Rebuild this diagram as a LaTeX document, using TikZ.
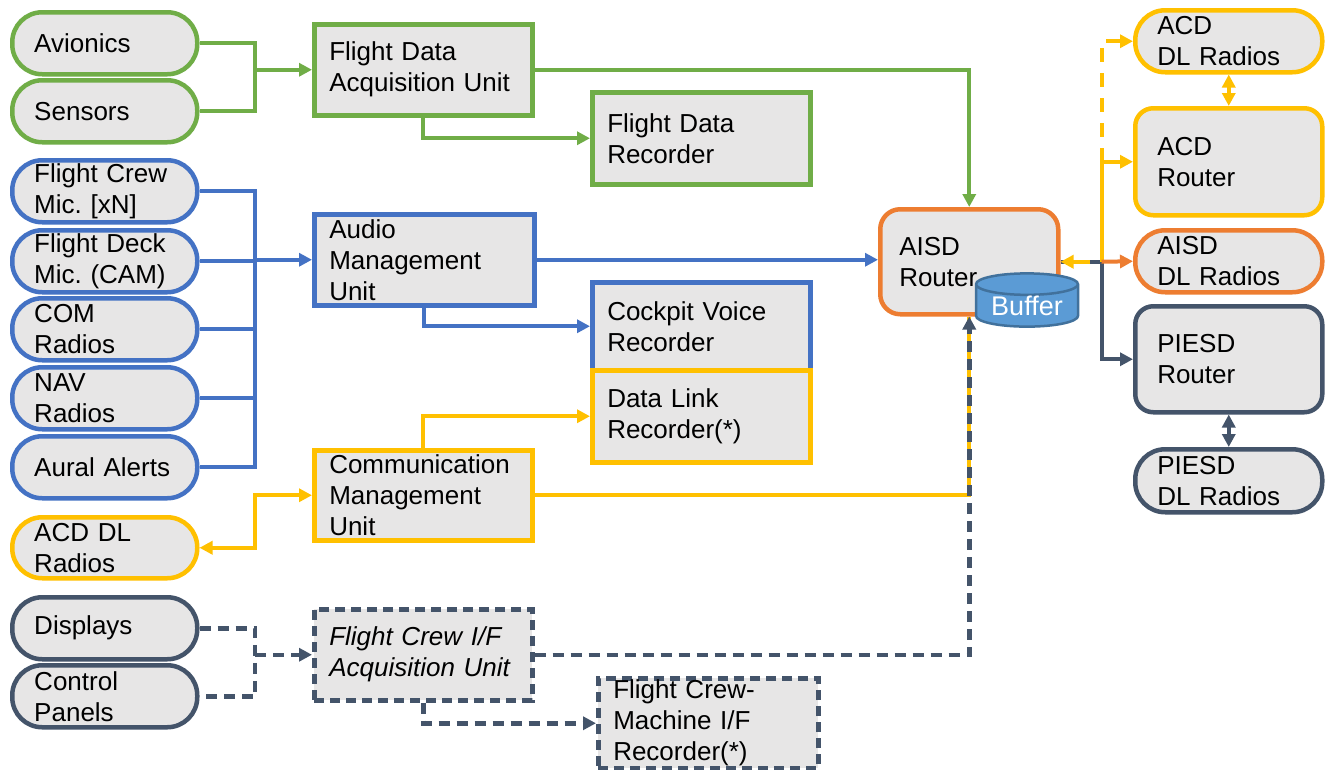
\documentclass[tikz,border=0pt]{standalone}
\usepackage{fontspec}
\setmainfont{Liberation Sans}
\usetikzlibrary{arrows.meta,shapes.geometric,calc}
\frenchspacing

\definecolor{cgreen}{HTML}{70AD47}
\definecolor{cblue}{HTML}{4472C4}
\definecolor{corange}{HTML}{ED7D31}
\definecolor{cyellow}{HTML}{FFC000}
\definecolor{cdark}{HTML}{44546A}
\definecolor{cfill}{HTML}{E7E6E6}
\definecolor{cbuf}{HTML}{5B9BD5}
\definecolor{cbufline}{HTML}{41719C}

\tikzset{
  base/.style={draw, fill=cfill, line width=4.5pt, inner ysep=0pt, align=left,
    anchor=north west, font=\fontsize{26}{31}\selectfont},
  unitbox/.style={base, inner xsep=15pt},
  pill/.style={base, rounded corners=30pt, inner xsep=22pt, text width=141pt, minimum height=62pt},
  rpill/.style={base, rounded corners=30pt, inner xsep=22pt, text width=143pt, minimum height=62pt},
  rrouter/.style={base, rounded corners=18pt, inner xsep=22pt, text width=143pt},
  dashbox/.style={dash pattern=on 10pt off 6pt},
  tip/.style={-{Triangle[length=13pt,width=13pt]}},
  bitip/.style={{Triangle[length=13pt,width=13pt]}-{Triangle[length=13pt,width=13pt]}},
  conn/.style={line width=4pt},
  gline/.style={conn, draw=cgreen},
  bline/.style={conn, draw=cblue},
  yline/.style={conn, draw=cyellow},
  oline/.style={conn, draw=corange},
  kline/.style={conn, draw=cdark},
  dline/.style={conn, draw=cdark, line width=4.5pt, dash pattern=on 11pt off 7pt},
}

\begin{document}
\begin{tikzpicture}[x=1pt,y=-1pt]
\useasboundingbox (0,0) rectangle (1326,769);
\fill[white] (0,0) rectangle (1326,769);

% ---- source devices (left column)
\node[pill, draw=cgreen] (avionics) at (10,10) {Avionics};
\node[pill, draw=cgreen] (sensors)  at (10,78) {Sensors};
\node[pill, draw=cblue] (fcmic) at (10,158) {Flight Crew\\Mic. [xN]};
\node[pill, draw=cblue] (fdmic) at (10,228) {Flight Deck\\Mic. (CAM)};
\node[pill, draw=cblue] (com)   at (10,296) {COM\\Radios};
\node[pill, draw=cblue] (nav)   at (10,365) {NAV\\Radios};
\node[pill, draw=cblue] (aural) at (10,434) {Aural Alerts};
\node[pill, draw=cyellow, minimum height=61pt] (acdl) at (10,515) {ACD DL\\Radios};
\node[pill, draw=cdark] (displays) at (10,595) {Displays};
\node[pill, draw=cdark] (panels)   at (10,663) {Control\\Panels};

% ---- acquisition / management units and recorders
\node[unitbox, draw=cgreen, text width=188pt, minimum height=91pt] (fdau) at (312,22) {Flight Data\\Acquisition Unit};
\node[unitbox, draw=cgreen, text width=188pt, minimum height=92pt] (fdr) at (590,90) {Flight Data\\Recorder};
\node[unitbox, draw=cblue, text width=190pt, minimum height=91pt] (amu) at (312,212) {Audio\\Management\\Unit};
\node[unitbox, draw=cblue, text width=188pt, minimum height=88pt] (cvr) at (590,280) {Cockpit Voice\\Recorder};
\node[unitbox, draw=cyellow, text width=188pt, minimum height=92pt] (dlr) at (590,368) {Data Link\\Recorder(*)};
\node[unitbox, draw=cyellow, text width=188pt, minimum height=90pt] (cmu) at (312,448) {Communication\\Management\\Unit};
\node[unitbox, dashbox, draw=cdark, text width=188pt, minimum height=91pt,
      font=\fontsize{26}{31}\selectfont\itshape] (fcifau) at (312,607) {Flight Crew I/F\\Acquisition Unit};
\node[unitbox, dashbox, draw=cdark, text width=190pt, minimum height=90pt] (fcmifr) at (596,676) {Flight Crew-\\Machine I/F\\Recorder(*)};

% ---- router with buffer
\node[base, draw=corange, rounded corners=20pt, inner xsep=19pt, text width=140pt, minimum height=105pt] (router) at (878,207) {AISD\\Router};
\node[cylinder, shape border rotate=90, aspect=0.3, draw=cbufline, fill=cbuf, line width=2.5pt,
      minimum width=102pt, minimum height=40pt, inner sep=0pt, text=white,
      font=\fontsize{27}{30}\selectfont] (buffer) at (1027,306) {Buffer};

% ---- right column
\node[rpill, draw=cyellow] (acdlr) at (1133,8) {ACD\\DL Radios};
\node[rrouter, draw=cyellow, minimum height=107pt] (acdrouter) at (1133,106) {ACD\\Router};
\node[rpill, draw=corange] (aisddl) at (1133,228) {AISD\\DL Radios};
\node[rrouter, draw=cdark, minimum height=106pt] (piesdrouter) at (1133,304) {PIESD\\Router};
\node[rpill, draw=cdark, minimum height=63pt] (piesddl) at (1133,447) {PIESD\\DL Radios};

% ---- junction points
\path (fdau.west) ++(-57,0) coordinate (jg);
\path (amu.west) ++(-57,0) coordinate (jb);
\path (cmu.west) ++(-57,0) coordinate (jy);
\path (fcifau.west) ++(-57,0) coordinate (jd);
\path (router.east) ++(41,0) coordinate (rj);
\path (router.east) ++(29,0) coordinate (ys);

% ---- green: flight data
\draw[gline] (avionics.east) -| (jg) |- (sensors.east);
\draw[gline, tip] (jg) -- (fdau.west);
\draw[gline, tip] (fdau.east) -| (router.north);
\draw[gline, tip] (fdau.south) |- (fdr.west);

% ---- blue: audio
\draw[bline] (fcmic.east) -- (fcmic.east -| jb) -- (aural.east -| jb) -- (aural.east);
\draw[bline] (fdmic.east) -- (fdmic.east -| jb);
\draw[bline] (com.east) -- (com.east -| jb);
\draw[bline] (nav.east) -- (nav.east -| jb);
\draw[bline, tip] (jb) -- (amu.west);
\draw[bline, tip] (amu.east) -- (amu.east -| router.west);
\draw[bline, tip] (amu.south) |- (cvr.west);

% ---- yellow: data link
\draw[yline, tip] (cmu.north) |- (dlr.west);
\draw[yline] (cmu.east) -| (router.south);
\draw[yline, bitip] (acdl.east) -| (jy) -- (cmu.west);

% ---- dark dashed: flight crew interface
\draw[dline] (displays.east) -| (jd) |- (panels.east);
\draw[dline, tip] (jd) -- (fcifau.west);
\draw[dline, tip] (fcifau.east) -| (router.south);
\draw[dline, tip] (fcifau.south) |- (fcmifr.west);

% ---- router outputs
\draw[kline, tip] (router.east) -- (rj) |- (piesdrouter.west);
\draw[yline, tip] (ys) -- (router.east);
\draw[yline, tip] (rj) |- (acdrouter.west);
\draw[yline, tip, dash pattern=on 14pt off 11pt] (rj |- acdrouter.west) |- (acdlr.west);
\draw[oline, tip] (rj) -- (aisddl.west);
\draw[yline, bitip] (acdlr.south) -- (acdrouter.north);
\draw[kline, bitip] (piesdrouter.south) -- (piesddl.north);
\end{tikzpicture}
\end{document}
